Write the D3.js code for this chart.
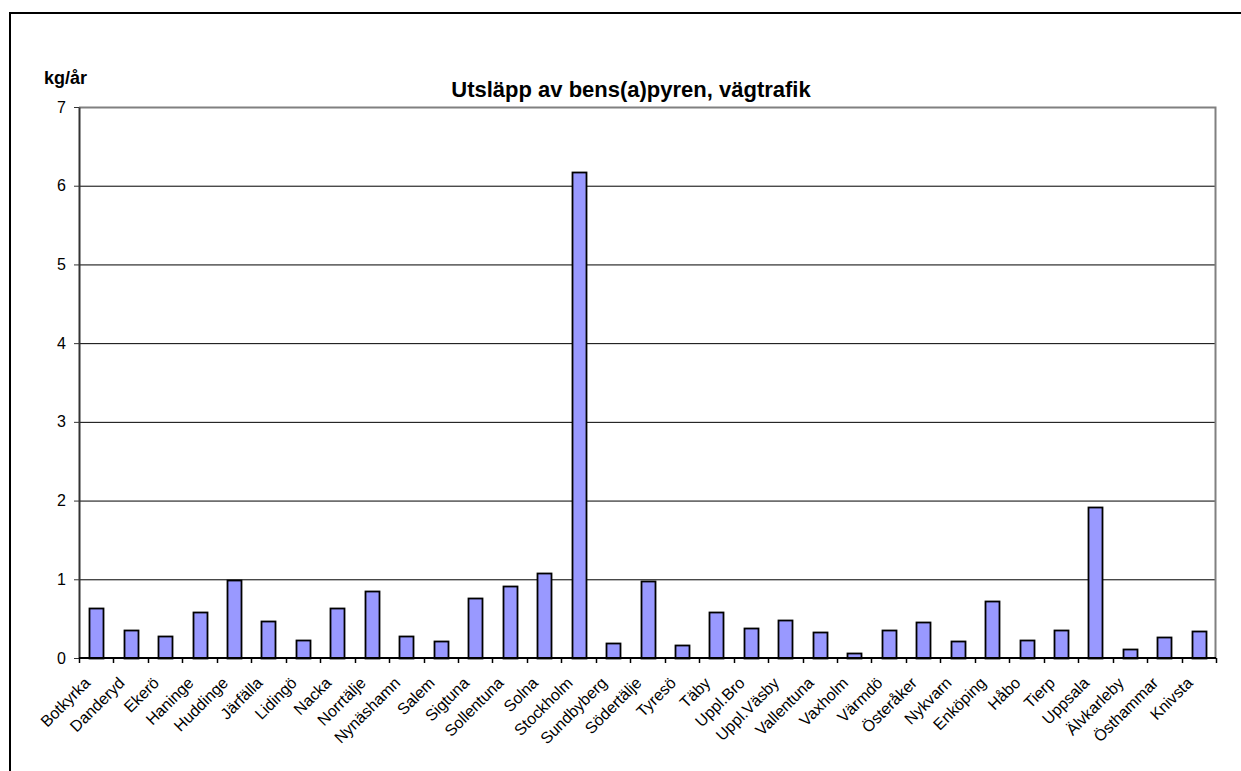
<!DOCTYPE html>
<html>
<head>
<meta charset="utf-8">
<script src="https://cdn.jsdelivr.net/npm/d3@7"></script>
<style>
  body { margin: 0; background: #fff; }
  svg { display: block; font-family: "Liberation Sans", Arial, sans-serif; }
</style>
</head>
<body>
<div id="chart"></div>
<script>
const kommuner = ['Botkyrka', 'Danderyd', 'Ekerö', 'Haninge', 'Huddinge', 'Järfälla', 'Lidingö', 'Nacka',
    'Norrtälje', 'Nynäshamn', 'Salem', 'Sigtuna', 'Sollentuna', 'Solna', 'Stockholm', 'Sundbyberg',
    'Södertälje', 'Tyresö', 'Täby', 'Uppl.Bro', 'Uppl.Väsby', 'Vallentuna', 'Vaxholm', 'Värmdö',
    'Österåker', 'Nykvarn', 'Enköping', 'Håbo', 'Tierp', 'Uppsala', 'Älvkarleby', 'Östhammar', 'Knivsta'];

const utslapp = [0.63, 0.36, 0.28, 0.58, 0.99, 0.47, 0.23, 0.63,
    0.85, 0.28, 0.22, 0.76, 0.92, 1.08, 6.18, 0.19,
    0.98, 0.17, 0.58, 0.38, 0.48, 0.33, 0.06, 0.35,
    0.46, 0.22, 0.73, 0.23, 0.35, 1.92, 0.12, 0.27, 0.34];

const yTicks = [0, 1, 2, 3, 4, 5, 6, 7];

const W = 1241, H = 771;
const margin = { top: 107, right: 25, bottom: 113, left: 79 };
const width = W - margin.left - margin.right;
const height = H - margin.top - margin.bottom;

const root = d3.select('#chart')
    .append('svg')
    .attr('width', W)
    .attr('height', H);

// outer chart frame
root.append('rect')
    .attr('x', 10)
    .attr('y', 13)
    .attr('width', W)
    .attr('height', H)
    .attr('fill', 'none')
    .attr('stroke', '#000')
    .attr('stroke-width', 2);

root.append('text')
    .attr('x', 631)
    .attr('y', 97)
    .attr('text-anchor', 'middle')
    .style('font-size', '22px')
    .style('font-weight', 'bold')
    .text('Utsläpp av bens(a)pyren, vägtrafik');

root.append('text')
    .attr('x', 44)
    .attr('y', 84)
    .style('font-size', '18px')
    .style('font-weight', 'bold')
    .text('kg/år');

const svg = root.append('g')
    .attr('transform', `translate(${margin.left}, ${margin.top})`);

const xScale = d3.scaleBand()
    .domain(kommuner)
    .range([0, width]);

const yScale = d3.scaleLinear()
    .domain([0, 7])
    .range([height, 0]);

// gridlines
svg.selectAll('.grid')
    .data(yTicks.slice(1, -1))
    .enter()
    .append('line')
    .attr('x1', 0)
    .attr('x2', width)
    .attr('y1', d => yScale(d) + 0.5)
    .attr('y2', d => yScale(d) + 0.5)
    .attr('stroke', '#000')
    .attr('stroke-width', 1);

// plot area border (top + right)
svg.append('path')
    .attr('d', `M0,${yScale(7) + 0.5}H${width - 0.5}V${height}`)
    .attr('fill', 'none')
    .attr('stroke', '#808080')
    .attr('stroke-width', 2);

const barW = 14;
svg.selectAll('.bar')
    .data(utslapp)
    .enter()
    .append('rect')
    .attr('x', (d, i) => Math.round(xScale(kommuner[i]) + (xScale.bandwidth() - barW) / 2) + 0.5)
    .attr('width', barW)
    .attr('y', d => Math.round(yScale(d)) + 0.5)
    .attr('height', d => height - Math.round(yScale(d)))
    .attr('fill', '#9999ff')
    .attr('stroke', '#000')
    .attr('stroke-width', 1.8);

// y axis
const yAxis = svg.append('g')
    .call(d3.axisLeft(yScale).tickValues(yTicks).tickFormat(d3.format('d'))
        .tickSize(5).tickSizeOuter(0).tickPadding(8));
yAxis.select('.domain').attr('stroke', '#333').attr('stroke-width', 2);
yAxis.selectAll('.tick line').attr('stroke', '#333');
yAxis.selectAll('text')
    .style('font-size', '16px')
    .style('font-family', '"Liberation Sans", Arial, sans-serif')
    .attr('fill', '#000');

// x axis: ticks between categories
const xAxis = svg.append('g')
    .attr('transform', `translate(0, ${height})`);

xAxis.append('line')
    .attr('x1', 0)
    .attr('x2', width)
    .attr('y1', 0)
    .attr('y2', 0)
    .attr('stroke', '#000')
    .attr('stroke-width', 2);

xAxis.selectAll('.xtick')
    .data(kommuner.concat(['']))
    .enter()
    .append('line')
    .attr('x1', (d, i) => Math.round(i * xScale.step()) + 0.5)
    .attr('x2', (d, i) => Math.round(i * xScale.step()) + 0.5)
    .attr('y1', 0)
    .attr('y2', 5)
    .attr('stroke', '#000')
    .attr('stroke-width', 1.5);

xAxis.selectAll('.xlabel')
    .data(kommuner)
    .enter()
    .append('text')
    .attr('transform', d => `translate(${xScale(d) + xScale.bandwidth() / 2 - 9}, 22) rotate(-45)`)
    .attr('text-anchor', 'end')
    .attr('dy', '0.35em')
    .style('font-size', '16px')
    .text(d => d);
</script>
</body>
</html>
